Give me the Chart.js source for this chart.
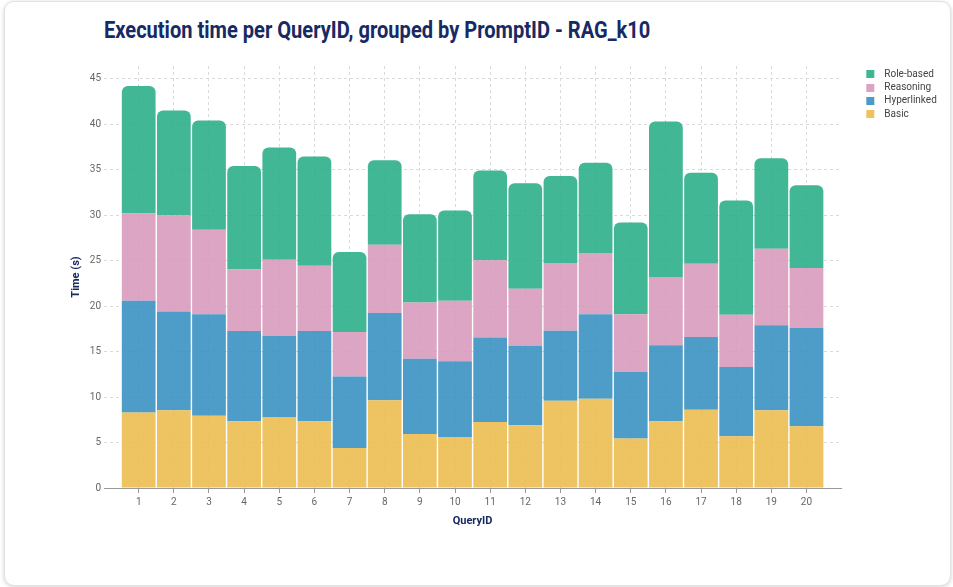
<!DOCTYPE html>
<html><head><meta charset="utf-8">
<script src="https://cdn.jsdelivr.net/npm/chart.js@4.4.1/dist/chart.umd.min.js"></script>
<style>
html,body{margin:0;padding:0;background:#fff;width:953px;height:587px;overflow:hidden;}
#card{position:absolute;left:4px;top:1px;width:945px;height:583px;border:1px solid #e2e2e2;border-radius:10px;box-shadow:0 1px 4px rgba(0,0,0,0.18);background:#fff;}
#title{position:absolute;left:104px;top:16px;font-family:Roboto;font-weight:bold;font-size:24px;color:#172a63;white-space:nowrap;transform-origin:0 0;line-height:28px;}
#wrap{position:absolute;left:0;top:0;width:953px;height:587px;}
</style></head><body>
<div id="card"></div>
<div id="title">Execution time per QueryID, grouped by PromptID - RAG_k10</div>
<div id="wrap"><canvas id="c" width="953" height="587"></canvas></div>
<script>
const queryIds = ['1','2','3','4','5','6','7','8','9','10','11','12','13','14','15','16','17','18','19','20'];
const basic      = [8.3, 8.55, 7.95, 7.35, 7.8, 7.35, 4.4, 9.65, 5.95, 5.6, 7.25, 6.9, 9.6, 9.8, 5.45, 7.35, 8.6, 5.7, 8.55, 6.8];
const hyperlinked= [12.3, 10.85, 11.15, 9.9, 8.9, 9.9, 7.85, 9.6, 8.25, 8.35, 9.3, 8.75, 7.7, 9.3, 7.3, 8.35, 8.0, 7.6, 9.35, 10.8];
const reasoning  = [9.6, 10.6, 9.3, 6.8, 8.4, 7.2, 4.9, 7.5, 6.2, 6.65, 8.5, 6.25, 7.45, 6.75, 6.35, 7.5, 8.05, 5.75, 8.4, 6.6];
const roleBased  = [14.0, 11.5, 12.0, 11.35, 12.35, 12.0, 8.8, 9.3, 9.7, 9.9, 9.85, 11.6, 9.55, 9.9, 10.1, 17.1, 10.0, 12.55, 9.95, 9.1];
const seriesNames = ['Basic','Hyperlinked','Reasoning','Role-based'];
const yTicks = [0,5,10,15,20,25,30,35,40,45];

const colors = ['rgba(236,187,76,0.88)','rgba(54,144,194,0.88)','rgba(215,153,188,0.88)','rgba(39,173,134,0.88)'];
const legendColors = ['#eec35f','#4a9bc8','#dca3c4','#3fb592'];

const t = document.getElementById('title');
t.style.transform = 'scaleX(' + (546 / t.offsetWidth) + ')';

Chart.defaults.font.family = 'Roboto';

function swatch(color){
  const c = document.createElement('canvas');
  c.width = 35; c.height = 8;
  const g = c.getContext('2d');
  g.fillStyle = color; g.fillRect(22,0,8,8);
  return c;
}
const swatches = legendColors.map(swatch);

const allSeries = [basic, hyperlinked, reasoning, roleBased];
const datasets = allSeries.map((arr, k) => ({
  label: seriesNames[k],
  data: arr.map((v, i) => ({x: Number(queryIds[i]), y: v})),
  backgroundColor: colors[k],
  borderWidth: 0,
  borderRadius: k === 3 ? {topLeft: 6, topRight: 6, bottomLeft: 0, bottomRight: 0} : 0,
  borderSkipped: 'start'
}));

const chart = new Chart(document.getElementById('c'), {
  type: 'bar',
  data: { datasets },
  options: {
    responsive: false,
    animation: false,
    layout: { padding: { top: 66, left: 66, right: 15, bottom: 55 } },
    datasets: { bar: { barPercentage: 0.96, categoryPercentage: 1 } },
    plugins: {
      tooltip: { enabled: false },
      title: { display: false },
      legend: {
        position: 'right', align: 'start', reverse: true,
        labels: {
          usePointStyle: true, pointStyleWidth: 35, boxHeight: 8, padding: 3.3,
          color: '#444', font: { size: 10 },
          generateLabels(ch) {
            const items = Chart.defaults.plugins.legend.labels.generateLabels(ch);
            items.forEach(it => { it.pointStyle = swatches[it.datasetIndex]; });
            return items;
          }
        }
      }
    },
    scales: {
      x: {
        type: 'linear', stacked: true, min: 0.013, max: 20.982, offset: false,
        afterBuildTicks: ax => { ax.ticks = queryIds.map(q => ({ value: Number(q) })); },
        afterFit: ax => { ax.height = 44; },
        ticks: { callback: v => queryIds[v - 1], color: '#666', font: { size: 10 }, padding: 3, autoSkip: false, maxRotation: 0 },
        grid: { offset: false, color: '#dadada', tickColor: '#999', tickLength: 5, tickBorderDash: [] },
        border: { display: true, color: '#999', width: 1, dash: [3, 3] },
        title: { display: true, text: 'QueryID', color: '#172a63', font: { size: 11, weight: 'bold' } }
      },
      y: {
        stacked: true, min: 0, max: 46.4,
        afterBuildTicks: ax => { ax.ticks = yTicks.map(v => ({ value: v })); },
        afterFit: ax => { ax.width = 38; },
        ticks: { color: '#666', font: { size: 10 }, padding: 3 },
        grid: { color: '#dadada', drawTicks: false },
        border: { display: false, dash: [3, 3] },
        title: { display: true, text: 'Time (s)', color: '#172a63', font: { size: 11, weight: 'bold' } }
      }
    }
  }
});
const diff = chart.chartArea.right - 841;
if (Math.abs(diff) > 0.5) {
  chart.options.layout.padding.right += diff;
  chart.update();
}
</script>
</body></html>
